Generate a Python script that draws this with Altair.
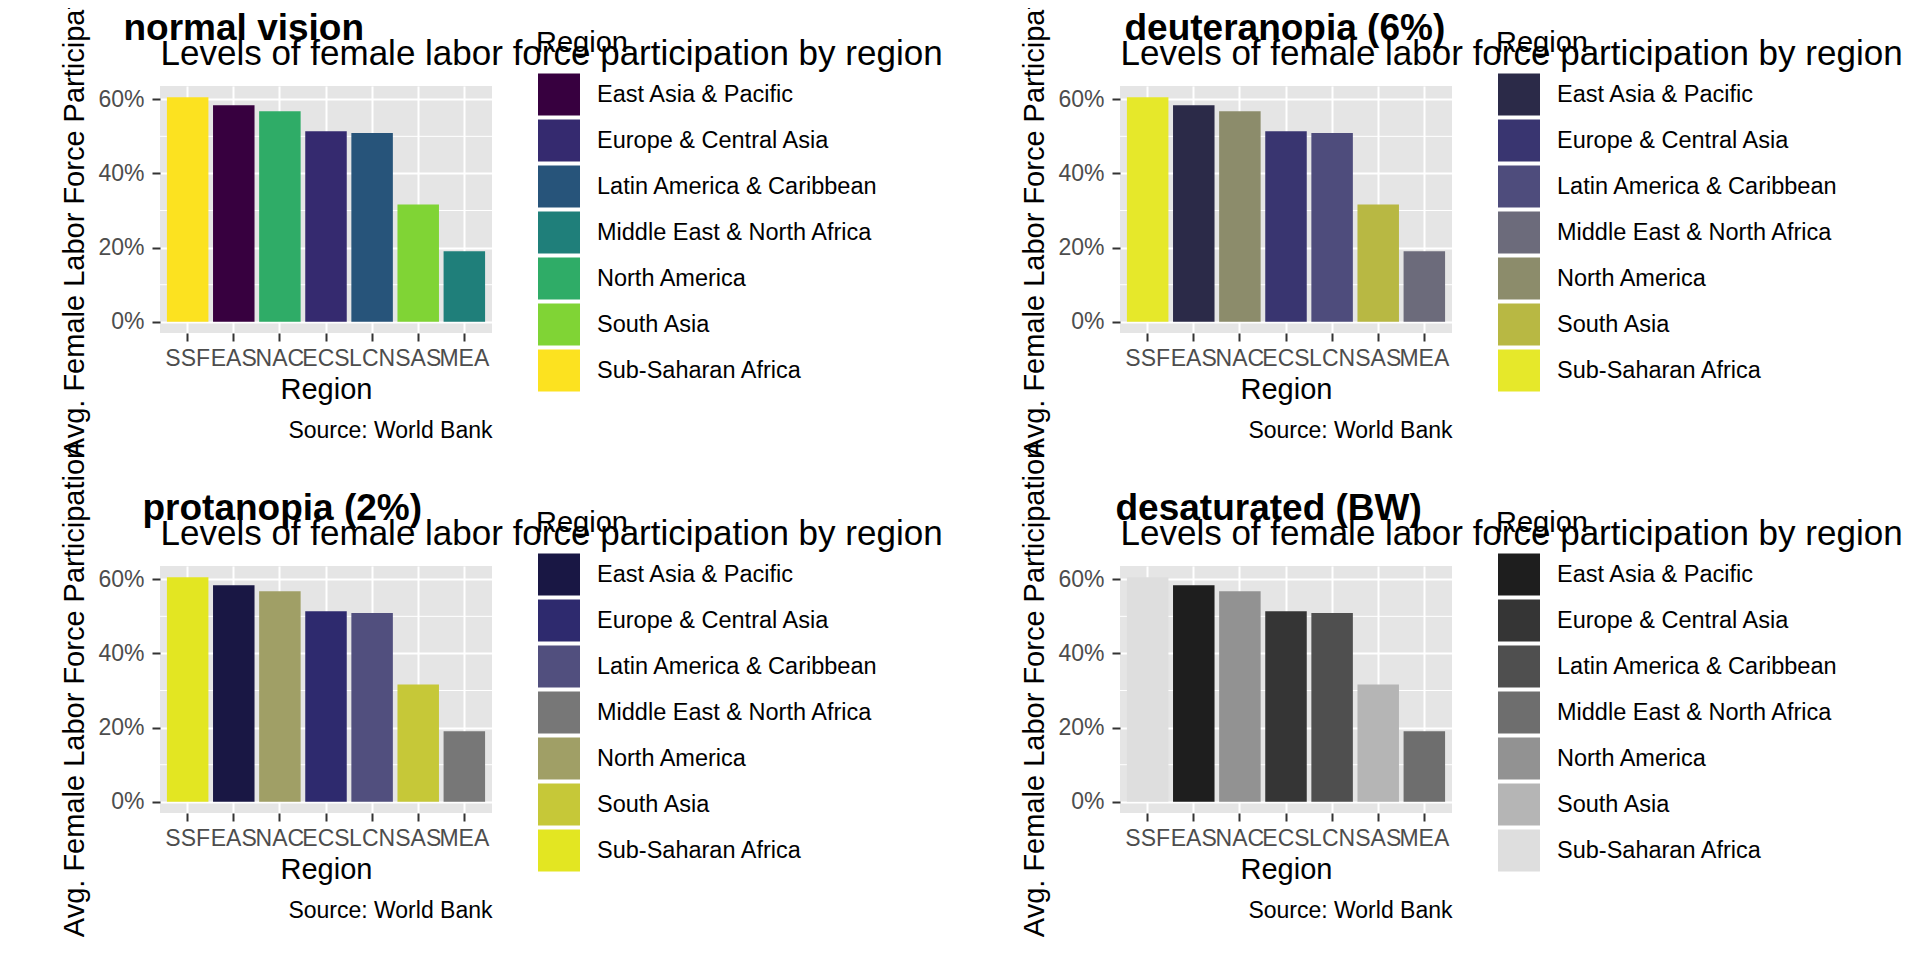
import altair as alt
import pandas as pd

# World Bank regions, alphabetical (legend order)
regions = [
    "East Asia & Pacific",
    "Europe & Central Asia",
    "Latin America & Caribbean",
    "Middle East & North Africa",
    "North America",
    "South Asia",
    "Sub-Saharan Africa",
]
codes = ["EAS", "ECS", "LCN", "MEA", "NAC", "SAS", "SSF"]
values = [0.584, 0.514, 0.509, 0.190, 0.568, 0.316, 0.6055]

major_breaks = [0.0, 0.2, 0.4, 0.6]
minor_breaks = [0.1, 0.3, 0.5]

panel_labels = ["normal vision", "deuteranopia (6%)", "protanopia (2%)", "desaturated (BW)"]
panel_palettes = [
    ["#37003F", "#352A6F", "#27547A", "#1F7F7A", "#2FAC67", "#80D435", "#FCE220"],
    ["#2B2A48", "#393570", "#4E4C7C", "#6C6B7B", "#8C8C6B", "#B8B843", "#E6E82A"],
    ["#191744", "#2E2A6E", "#514F7E", "#777777", "#A09F66", "#C6C838", "#E3E622"],
    ["#1E1E1E", "#353535", "#4F4F4F", "#6E6E6E", "#929292", "#B5B5B5", "#DEDEDE"],
]
label_shift = [-37, 4, -18, -5]

title_text = "Levels of female labor force participation by region"
y_title = "Avg. Female Labor Force Participation"
caption = "Source: World Bank"

W, H = 332, 247
FONT = "Liberation Sans"

# legend key: 42px swatch inside a 46px cell
KEY_CELL = 46
KEY_FILL = 42
k = KEY_FILL / KEY_CELL
key_path = f"M{-k:.4f},{-k:.4f}H{k:.4f}V{k:.4f}H{-k:.4f}Z"

df = pd.DataFrame({"region": regions, "code": codes, "value": values})
order = df.sort_values("value", ascending=False)["code"].tolist()
top = max(values)

y_scale = alt.Scale(domain=[-0.05 * top, 1.05 * top], nice=False, zero=False)
x_scale = alt.Scale(paddingInner=0.1, paddingOuter=0.15)

hidden = dict(labels=False, ticks=False, domain=False, grid=False)


def panel(label, colors, shift):
    base = alt.Chart(df)

    minor = alt.Chart(pd.DataFrame({"v": minor_breaks})).mark_rule(
        color="white", strokeWidth=1
    ).encode(
        y=alt.Y("v:Q", scale=y_scale, axis=alt.Axis(
            orient="right", title=label, **hidden,
            titleAngle=0, titleX=shift - W, titleY=-47,
            titleAlign="left", titleBaseline="alphabetic",
            titleFontSize=37, titleFontWeight="bold", titleColor="black",
        ))
    )

    bars = base.mark_bar().encode(
        x=alt.X("code:N", sort=order, scale=x_scale, axis=alt.Axis(
            orient="bottom", title="Region", bandPosition=0.5,
            grid=True, gridColor="white", gridWidth=2,
            domain=False, tickSize=8, tickWidth=2, tickColor="#333333",
            labelAngle=0, labelFontSize=23, labelColor="#4D4D4D",
            labelPadding=6, labelOverlap=False,
            titleFontSize=29, titleFontWeight="normal", titleColor="black",
            titleX=W / 2, titleY=65, titleBaseline="alphabetic",
        )),
        y=alt.Y("value:Q", scale=y_scale, axis=alt.Axis(
            orient="left", title=y_title, values=major_breaks, format=".0%",
            grid=True, gridColor="white", gridWidth=2,
            domain=False, tickSize=8, tickWidth=2, tickColor="#333333",
            labelFontSize=23, labelColor="#4D4D4D", labelPadding=8,
            titleFontSize=29, titleFontWeight="normal", titleColor="black",
            titleX=-77, titleY=H / 2, titleAngle=270, titleBaseline="alphabetic",
        )),
        y2=alt.datum(0),
        color=alt.Color("region:N", scale=alt.Scale(domain=regions, range=colors),
                        legend=alt.Legend(
                            orient="none", legendX=376, legendY=-57, padding=0,
                            title="Region", titleFontSize=29, titleFontWeight="normal",
                            titleColor="black", titlePadding=13.5,
                            symbolType=key_path, symbolSize=KEY_CELL ** 2,
                            symbolStrokeWidth=0, symbolOpacity=1, rowPadding=2,
                            labelFontSize=23.5, labelColor="black", labelOffset=15,
                            labelLimit=0,
                        )),
    )

    subtitle = base.mark_point(opacity=0).encode(
        x=alt.X("code:N", sort=order, scale=x_scale, axis=alt.Axis(
            orient="top", title=title_text, **hidden,
            titleX=0, titleY=-22, titleAlign="left", titleBaseline="alphabetic",
            titleFontSize=35, titleFontWeight="normal", titleColor="black",
        )),
        y=alt.Y("value:Q", scale=y_scale, axis=None),
    )

    source = base.mark_point(opacity=0).encode(
        x=alt.X("code:N", sort=order, scale=x_scale, axis=alt.Axis(
            orient="bottom", title=caption, **hidden,
            titleX=W, titleY=104, titleAlign="right", titleBaseline="alphabetic",
            titleFontSize=23, titleFontWeight="normal", titleColor="black",
        )),
        y=alt.Y("value:Q", scale=y_scale, axis=None),
    )

    return alt.layer(minor, bars, subtitle, source).resolve_axis(
        x="independent", y="independent"
    ).properties(width=W, height=H)


panels = [panel(l, c, s) for l, c, s in zip(panel_labels, panel_palettes, label_shift)]

chart = alt.concat(
    *panels, columns=2, spacing={"row": 233, "column": 628}, bounds="flush"
).resolve_scale(
    color="independent"
).properties(
    padding={"top": -46, "left": 51, "right": 0, "bottom": 0}
).configure(
    font=FONT
).configure_view(
    fill="#E5E5E5", stroke=None
)

chart.save("out.html", embed_options={"renderer": "svg", "actions": False})
